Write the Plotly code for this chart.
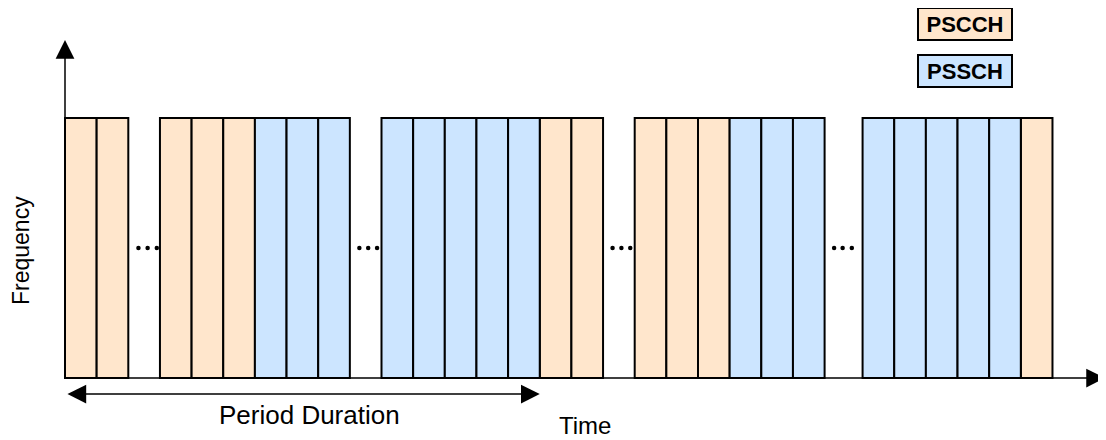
import plotly.graph_objects as go

# ---- data ----
group_starts = [0, 3, 10, 18, 25.2]
group_slots = [
    ["PSCCH", "PSCCH"],
    ["PSCCH", "PSCCH", "PSCCH", "PSSCH", "PSSCH", "PSSCH"],
    ["PSSCH", "PSSCH", "PSSCH", "PSSCH", "PSSCH", "PSCCH", "PSCCH"],
    ["PSCCH", "PSCCH", "PSCCH", "PSSCH", "PSSCH", "PSSCH"],
    ["PSSCH", "PSSCH", "PSSCH", "PSSCH", "PSSCH", "PSCCH"],
]
slot_height = 1.0
dot_x = [2.32, 2.61, 2.9, 9.3, 9.58, 9.86, 17.3, 17.58, 17.86, 24.3, 24.57, 24.86]
dot_y = [0.5] * len(dot_x)
period_span = [0, 15]
colors = {"PSCCH": "#FFE6CC", "PSSCH": "#CCE5FF"}

# ---- figure ----
fig = go.Figure()
for ch in ["PSCCH", "PSSCH"]:
    xs = []
    for start, slots in zip(group_starts, group_slots):
        for i, s in enumerate(slots):
            if s == ch:
                xs.append(start + i + 0.5)
    fig.add_trace(go.Bar(
        x=xs, y=[slot_height] * len(xs), width=[1] * len(xs), base=0,
        marker=dict(color=colors[ch], line=dict(color="#000000", width=2)),
        showlegend=False, hoverinfo="skip",
    ))

fig.add_trace(go.Scatter(
    x=dot_x, y=dot_y, mode="markers",
    marker=dict(color="black", size=4.5), showlegend=False, hoverinfo="skip",
))

OFF = 8  # page body margin
W, H = 1106 - OFF, 440 - OFF
px_per_x = 31.65
px_per_y = 260.0
x0_px, y0_px = 65 - OFF, 378 - OFF
xr = [-x0_px / px_per_x, (W - x0_px) / px_per_x]
yr = [-(H - y0_px) / px_per_y, y0_px / px_per_y]


def px(x):
    return (x - OFF) / W


def py(y):
    return 1 - (y - OFF) / H


font = "Liberation Sans, Arial, sans-serif"
center = dict(xanchor="center", yanchor="middle")

ann = []
ahead = dict(arrowhead=2, arrowsize=2.5, arrowwidth=1.5, arrowcolor="black", standoff=0)
# y axis arrow
ann.append(dict(x=0, y=(y0_px - (40 - OFF)) / px_per_y, ax=0, ay=0, xref="x", yref="y",
                axref="x", ayref="y", text="", showarrow=True, **ahead))
# x axis arrow
ann.append(dict(x=((1105 - OFF) - x0_px) / px_per_x, y=0, ax=0, ay=0, xref="x", yref="y",
                axref="x", ayref="y", text="", showarrow=True, **ahead))
# period duration arrow
pyv = -(394 - 378) / px_per_y
ann.append(dict(x=period_span[1], y=pyv, ax=period_span[0] + 0.03, ay=pyv, xref="x", yref="y",
                axref="x", ayref="y", text="", showarrow=True,
                startarrowhead=2, arrowside="end+start", startarrowsize=2.5,
                startstandoff=0, **ahead))
ann.append(dict(x=px(309), y=py(415), xref="paper", yref="paper", text="Period Duration",
                showarrow=False, font=dict(family=font, size=26, color="black"), **center))
ann.append(dict(x=px(585), y=0, xref="paper", yref="paper", text="Time",
                xanchor="center", yanchor="bottom", borderpad=0,
                showarrow=False, font=dict(family=font, size=24, color="black")))
ann.append(dict(x=px(21), y=py(251), xref="paper", yref="paper", text="Frequency",
                textangle=-90, showarrow=False, font=dict(family=font, size=23, color="black"),
                **center))
# legend boxes
for label, cy in [("PSCCH", 23.5), ("PSSCH", 70.5)]:
    ann.append(dict(x=px(965), y=py(cy), xref="paper", yref="paper",
                    text="<b>" + label + "</b>", showarrow=False,
                    font=dict(family=font, size=22, color="black"),
                    bgcolor=colors[label], bordercolor="black", borderwidth=2,
                    borderpad=0, width=92, height=30, **center))

fig.update_layout(
    width=W, height=H, margin=dict(l=0, r=0, t=0, b=0),
    paper_bgcolor="white", plot_bgcolor="white",
    xaxis=dict(range=xr, visible=False, fixedrange=True),
    yaxis=dict(range=yr, visible=False, fixedrange=True),
    annotations=ann, barmode="overlay",
)
fig.write_html("out.html")
